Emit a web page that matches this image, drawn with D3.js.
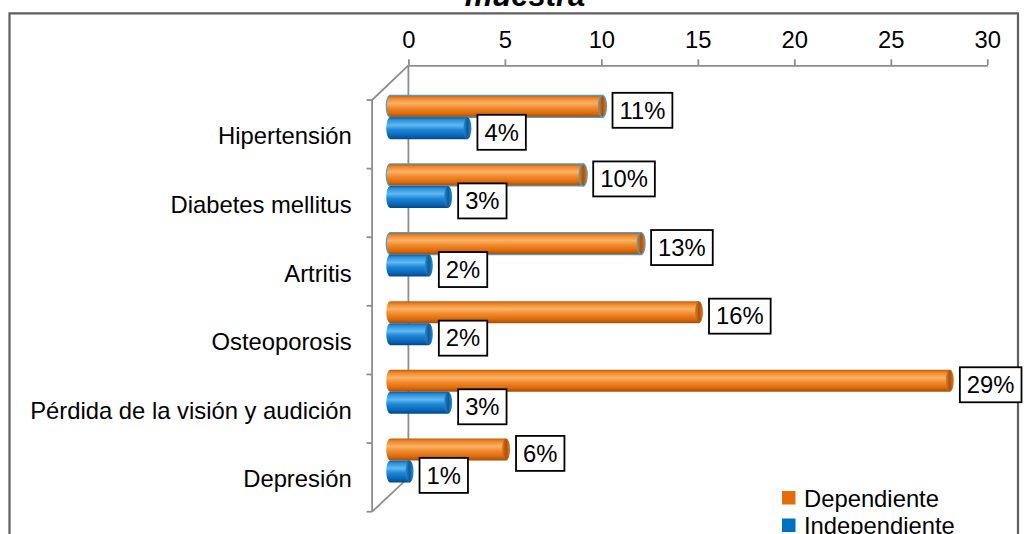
<!DOCTYPE html>
<html>
<head>
<meta charset="utf-8">
<script src="https://cdn.jsdelivr.net/npm/d3@7"></script>
<style>
  html, body { margin: 0; padding: 0; background: #fff; }
  svg { display: block; font-family: Arial, "Liberation Sans", sans-serif; }
</style>
</head>
<body>
<svg id="chart" width="1028" height="534"></svg>
<script>
// Enfermedades por grupo (porcentaje de la muestra)
const categories = ["Hipertensión", "Diabetes mellitus", "Artritis", "Osteoporosis", "Pérdida de la visión y audición", "Depresión"];
const dependiente = [11, 10, 13, 16, 29, 6];
const independiente = [4, 3, 2, 2, 3, 1];
const seriesNames = ["Dependiente", "Independiente"];
const xTicks = [0, 5, 10, 15, 20, 25, 30];
const titleText = "muestra";

const W = 1028, H = 534;
const FS = 23.8;
const svg = d3.select("#chart");

// colour ramps for the cylinders
const palette = {
  Dependiente: { stops: ["#b9590b", "#ef8426", "#fbb266", "#f28c2e", "#dc6b0c", "#a34c08"], cap: "#a9520c", rim: "#e07a22", swatch: "#e46c0a" },
  Independiente: { stops: ["#0a5aa3", "#2a90da", "#62b9f2", "#1f88d8", "#0b67b9", "#064781"], cap: "#0a5a9c", rim: "#2b8ad0", swatch: "#0070c0" }
};
const stopOffsets = [0, 0.12, 0.36, 0.56, 0.82, 1];

const defs = svg.append("defs");
seriesNames.forEach(name => {
  const g = defs.append("linearGradient").attr("id", "grad-" + name)
    .attr("x1", 0).attr("y1", 0).attr("x2", 0).attr("y2", 1);
  palette[name].stops.forEach((c, i) => g.append("stop").attr("offset", stopOffsets[i]).attr("stop-color", c));
  const cg = defs.append("linearGradient").attr("id", "cap-" + name)
    .attr("x1", 0).attr("y1", 0).attr("x2", 1).attr("y2", 0);
  cg.append("stop").attr("offset", 0).attr("stop-color", palette[name].rim);
  cg.append("stop").attr("offset", 0.5).attr("stop-color", palette[name].cap);
  cg.append("stop").attr("offset", 1).attr("stop-color", palette[name].rim);
});

// outer frame (bottom edge falls outside the view)
svg.append("path")
  .attr("d", `M9.5,${H + 5} L9.5,13.3 L1018,13.3 L1018,${H + 5}`)
  .attr("fill", "none").attr("stroke", "#5f5f5f").attr("stroke-width", 2.2);

// title (partially cut at the top)
svg.append("text")
  .attr("x", 525).attr("y", 6)
  .attr("text-anchor", "middle")
  .attr("font-size", 31).attr("font-weight", "bold").attr("font-style", "italic")
  .text(titleText);

// 3-D geometry: back plane scale + depth offset
const depth = { dx: 36.3, dy: 34 };
const xBack = d3.scaleLinear().domain([0, 30]).range([408.4, 987.3]);
const yFront = d3.scaleBand().domain(categories).range([100, 511.7]);
const yMid = d3.scaleBand().domain(categories).range([100 - depth.dy / 2, 511.7 - depth.dy / 2]);
const xMid = v => xBack(v) - depth.dx / 2;
const xFront = xBack(0) - depth.dx;

const lineColor = "#8e8e8e";
const axisY = 65.3;

// top value axis
const xAxis = d3.axisTop(xBack).tickValues(xTicks).tickSize(6).tickSizeOuter(0).tickPadding(11);
const gx = svg.append("g").attr("transform", `translate(0,${axisY})`).call(xAxis);
gx.select(".domain").attr("stroke", lineColor).attr("stroke-width", 1.8);
gx.selectAll(".tick line").attr("stroke", lineColor).attr("stroke-width", 1.8);
gx.selectAll(".tick text").attr("font-size", FS).attr("fill", "#000").attr("font-family", "Arial, 'Liberation Sans', sans-serif");

// side wall edges
const walls = svg.append("g").attr("fill", "none").attr("stroke", lineColor).attr("stroke-width", 1.8);
const yTopFront = yFront.range()[0], yBotFront = yFront.range()[1];
walls.append("line").attr("x1", xBack(0)).attr("y1", axisY).attr("x2", xBack(0)).attr("y2", yBotFront - depth.dy);
walls.append("line").attr("x1", xBack(0)).attr("y1", axisY).attr("x2", xFront).attr("y2", yTopFront);
walls.append("line").attr("x1", xFront).attr("y1", yTopFront).attr("x2", xFront).attr("y2", yBotFront);
walls.append("line").attr("x1", xFront).attr("y1", yBotFront).attr("x2", xBack(0)).attr("y2", yBotFront - depth.dy);
// category boundary ticks on the front edge
const boundaries = categories.map(c => yFront(c)).concat([yBotFront]);
walls.selectAll("line.cat-tick").data(boundaries).join("line")
  .attr("class", "cat-tick")
  .attr("x1", xFront - 5.5).attr("x2", xFront).attr("y1", d => d).attr("y2", d => d);

// category labels
svg.append("g").selectAll("text").data(categories).join("text")
  .attr("x", 351.7)
  .attr("y", d => yFront(d) + yFront.bandwidth() / 2 + 10)
  .attr("text-anchor", "end")
  .attr("font-size", FS)
  .text(d => d);

// cylinders
const barH = 22, rx = 4;
const rows = [];
categories.forEach((c, i) => {
  const center = yMid(c) + yMid.bandwidth() / 2;
  rows.push({ cat: c, series: "Dependiente", value: dependiente[i], y0: center - barH, i });
  rows.push({ cat: c, series: "Independiente", value: independiente[i], y0: center, i });
});
const outlinedCats = ["Hipertensión", "Diabetes mellitus", "Artritis"];

function bodyPath(d) {
  const x0 = xMid(0), x1 = xMid(d.value), yT = d.y0, yB = d.y0 + barH, ry = barH / 2;
  return `M${x0},${yT} L${x1},${yT} L${x1},${yB} L${x0},${yB} A${rx},${ry} 0 0 1 ${x0},${yT} Z`;
}

const bars = svg.append("g").selectAll("g").data(rows).join("g");
bars.append("path")
  .attr("d", bodyPath)
  .attr("fill", d => `url(#grad-${d.series})`)
  .attr("stroke", d => d.series === "Dependiente" && outlinedCats.includes(d.cat) ? "#4f9fc4" : "none")
  .attr("stroke-width", 1.2);
bars.append("ellipse")
  .attr("cx", d => xMid(d.value))
  .attr("cy", d => d.y0 + barH / 2)
  .attr("rx", rx).attr("ry", barH / 2)
  .attr("fill", d => `url(#cap-${d.series})`)
  .attr("stroke", d => d.series === "Dependiente" && outlinedCats.includes(d.cat) ? "#4f9fc4" : "none")
  .attr("stroke-width", 1.2);

// data labels in boxes
const labels = svg.append("g").selectAll("g").data(rows).join("g");
labels.each(function (d) {
  const g = d3.select(this);
  const cx = xMid(d.value) + rx + 6;
  const cy = d.y0 + barH / 2 + 4;
  const t = g.append("text")
    .attr("font-size", FS)
    .attr("y", cy)
    .attr("dy", "0.35em")
    .text(d.value + "%");
  const w = t.node().getComputedTextLength();
  const padX = 7, bh = 35;
  g.insert("rect", "text")
    .attr("x", cx).attr("y", cy - bh / 2)
    .attr("width", w + 2 * padX).attr("height", bh)
    .attr("fill", "#fff").attr("stroke", "#000").attr("stroke-width", 1.8);
  t.attr("x", cx + padX);
});

// legend
const legend = svg.append("g").selectAll("g").data(seriesNames).join("g")
  .attr("transform", (d, i) => `translate(782,${491 + i * 27.5})`);
legend.append("rect").attr("width", 13.5).attr("height", 13.5).attr("fill", d => palette[d].swatch);
legend.append("text").attr("x", 22).attr("y", 15.5).attr("font-size", FS).text(d => d);
</script>
</body>
</html>
